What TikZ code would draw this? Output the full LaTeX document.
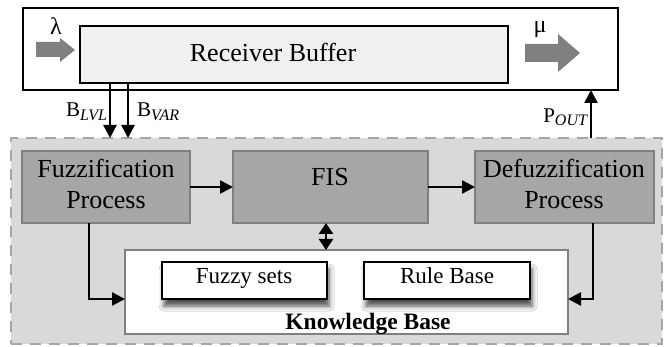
\documentclass[tikz,border=0pt]{standalone}
\usepackage{fontspec}
\setmainfont{Liberation Serif}
\newfontfamily\libser{Liberation Serif}
\usetikzlibrary{arrows.meta,shadows.blur}
\definecolor{regfill}{HTML}{D9D9D9}
\definecolor{regdash}{HTML}{A6A6A6}
\definecolor{procfill}{HTML}{A6A6A6}
\definecolor{procline}{HTML}{808080}
\definecolor{buffill}{HTML}{F0F0F0}
\definecolor{flowgray}{HTML}{808080}
\begin{document}
\begin{tikzpicture}[x=1pt,y=-1pt,
  every node/.style={inner sep=0pt, outer sep=0pt},
  boxnw/.style={anchor=north west, rectangle},
  procbox/.style={boxnw, fill=procfill, draw=procline, line width=1.5pt},
  subbox/.style={boxnw, fill=white, draw=black, line width=1.2pt,
     blur shadow={shadow xshift=2pt, shadow yshift=-7pt, shadow blur radius=5pt, shadow opacity=70}},
  arr/.style={line width=2.5pt, -{Triangle[length=13pt,width=13pt]}},
  dbl/.style={line width=2.5pt, {Triangle[length=11pt,width=14pt]}-{Triangle[length=11pt,width=14pt]}},
  flow/.style={fill=flowgray, draw=none},
  big/.style={font=\libser\fontsize{26}{31}\selectfont, align=center},
  mid/.style={anchor=base, font=\libser\fontsize{23}{23}\selectfont},
]
\useasboundingbox (0,0) rectangle (664,347);
% dashed region
\node[boxnw, fill=regfill, draw=regdash, line width=2.5pt, dash pattern=on 11pt off 8pt,
      minimum width=651pt, minimum height=206pt] (reg) at (11,138) {};
% top outer box
\node[boxnw, fill=white, draw=black, line width=1.5pt, minimum width=595pt, minimum height=82pt] (outer) at (23,8) {};
\node[boxnw, fill=buffill, draw=black, line width=1.5pt, minimum width=428pt, minimum height=57pt] (buf) at (80,26) {};
\node[big, anchor=base] (buftext) at (273,62) {Receiver Buffer};
% flow arrows
\fill[flow] (36,42) -- (60,42) -- (60,38) -- (75,50) -- (60,62) -- (60,57) -- (36,57) -- cycle;
\fill[flow] (525,44) -- (558,44) -- (558,34) -- (580,53) -- (558,72) -- (558,62) -- (525,62) -- cycle;
\node[anchor=base, font=\libser\fontsize{24}{24}\selectfont] (lam) at (56,35) {λ};
\node[anchor=base, font=\libser\fontsize{24}{24}\selectfont] (mu) at (540,33) {μ};
% process boxes
\node[procbox, minimum width=168pt, minimum height=72pt] (fuz) at (22,151) {};
\node[big, anchor=center] (fuztext) at (106,184) {Fuzzification\\Process};
\node[procbox, minimum width=195pt, minimum height=72pt] (fis) at (233,151) {};
\node[big, anchor=base] (fistext) at (330,186) {FIS};
\node[procbox, minimum width=179pt, minimum height=72pt] (def) at (475,151) {};
\node[big, anchor=center] (deftext) at (564,184) {Defuzzification\\Process};
% knowledge base
\node[boxnw, fill=white, draw=procline, line width=1.5pt, minimum width=443pt, minimum height=84pt] (kb) at (125,250) {};
\node[subbox, minimum width=165pt, minimum height=37pt] (fs) at (162,262) {};
\node[mid] (fstext) at (244,284) {Fuzzy sets};
\node[subbox, minimum width=166pt, minimum height=37pt] (rb) at (364,262) {};
\node[mid] (rbtext) at (447,284) {Rule Base};
\node[anchor=base, font=\libser\fontsize{23.5}{24}\selectfont\bfseries] (kbtext) at (368,330) {Knowledge Base};
% labels
\node[anchor=base east, font=\libser] (blvl) at (107,117) {\fontsize{21}{21}\selectfont B\raisebox{-4pt}{\fontsize{16}{16}\selectfont\itshape LVL}};
\node[anchor=base west, font=\libser] (bvar) at (137,117) {\fontsize{21}{21}\selectfont B\raisebox{-4pt}{\fontsize{16}{16}\selectfont\itshape VAR}};
\node[anchor=base east, font=\libser] (pout) at (587,123) {\fontsize{21}{21}\selectfont P\raisebox{-3pt}{\fontsize{16}{16}\selectfont\itshape OUT}};
% connectors
\coordinate (xl) at (110,0);
\coordinate (xv) at (128,0);
\coordinate (xp) at (591,0);
\coordinate (xd) at (326,0);
\coordinate (xf) at (89,0);
\coordinate (xr) at (593,0);
\coordinate (yk) at (0,299);
\coordinate (ya) at (0,187);
\draw[arr] (buf.south -| xl) -- (reg.north -| xl);
\draw[arr] (buf.south -| xv) -- (reg.north -| xv);
\draw[arr] (reg.north -| xp) -- (outer.south -| xp);
\draw[arr] (fuz.east |- ya) -- (fis.west |- ya);
\draw[arr] (fis.east |- ya) -- (def.west |- ya);
\draw[dbl] (fis.south -| xd) -- (kb.north -| xd);
\draw[arr] (fuz.south -| xf) -- (xf |- yk) -- (kb.west |- yk);
\draw[arr] (def.south -| xr) -- (xr |- yk) -- (kb.east |- yk);
\end{tikzpicture}
\end{document}
